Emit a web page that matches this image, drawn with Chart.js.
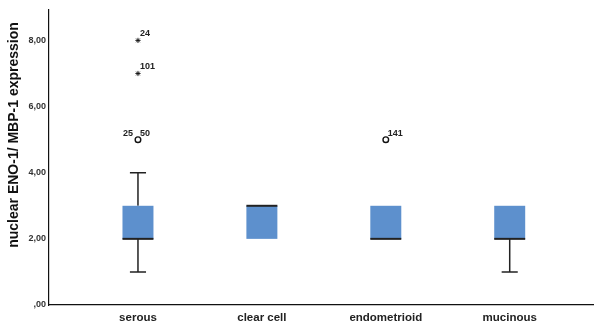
<!DOCTYPE html>
<html>
<head>
<meta charset="utf-8">
<script src="https://cdn.jsdelivr.net/npm/chart.js@4.4.1/dist/chart.umd.min.js"></script>
<style>
  html, body { margin: 0; padding: 0; background: #fff; overflow: hidden; }
  #wrap { width: 599px; height: 323px; position: relative; }
</style>
</head>
<body>
<div id="wrap"><canvas id="chart"></canvas></div>
<script>
// categories and five-number summaries
const categorias = ['serous', 'clear cell', 'endometrioid', 'mucinous'];
const minimos   = [1, 2, 2, 1];
const q1s       = [2, 2, 2, 2];
const medianas  = [2, 3, 2, 2];
const q3s       = [3, 3, 3, 3];
const maximos   = [4, 3, 3, 3];

// outliers: category index, value, marker, case labels
const outlierCat    = [0, 0, 0, 2];
const outlierValor  = [8, 7, 5, 5];
const outlierTipo   = ['star', 'star', 'circle', 'circle'];
const outlierLabelE = ['', '', '25', ''];
const outlierLabelD = ['24', '101', '50', '141'];

const yTicks = [0, 2, 4, 6, 8];
const yTitulo = 'nuclear ENO-1/ MBP-1 expression';

const corCaixa = '#5d90cd';
const corLinha = '#222222';
const meiaCaixa = 0.125;   // half box width in category units
const meioCap = 0.065;     // half whisker cap width
const fonte = '"Liberation Sans", Arial, sans-serif';

const fmt = v => v === 0 ? ',00' : v.toFixed(2).replace('.', ',');

const boxPlugin = {
  id: 'boxes',
  beforeDatasetsDraw(chart) {
    const { ctx, scales: { x, y } } = chart;
    ctx.save();
    categorias.forEach((c, i) => {
      const cx = x.getPixelForValue(i + 1);
      const xl = x.getPixelForValue(i + 1 - meiaCaixa);
      const xr = x.getPixelForValue(i + 1 + meiaCaixa);
      const cl = x.getPixelForValue(i + 1 - meioCap);
      const cr = x.getPixelForValue(i + 1 + meioCap);
      const yMin = y.getPixelForValue(minimos[i]);
      const yQ1 = y.getPixelForValue(q1s[i]);
      const yMed = y.getPixelForValue(medianas[i]);
      const yQ3 = y.getPixelForValue(q3s[i]);
      const yMax = y.getPixelForValue(maximos[i]);

      ctx.strokeStyle = corLinha;
      ctx.lineWidth = 1.5;
      if (maximos[i] > q3s[i]) {
        ctx.beginPath();
        ctx.moveTo(cx, yQ3); ctx.lineTo(cx, yMax);
        ctx.moveTo(cl, yMax); ctx.lineTo(cr, yMax);
        ctx.stroke();
      }
      if (minimos[i] < q1s[i]) {
        ctx.beginPath();
        ctx.moveTo(cx, yQ1); ctx.lineTo(cx, yMin);
        ctx.moveTo(cl, yMin); ctx.lineTo(cr, yMin);
        ctx.stroke();
      }
      ctx.fillStyle = corCaixa;
      ctx.fillRect(xl, yQ3, xr - xl, yQ1 - yQ3);

      ctx.strokeStyle = corLinha;
      ctx.lineWidth = 2;
      ctx.beginPath();
      ctx.moveTo(xl, yMed); ctx.lineTo(xr, yMed);
      ctx.stroke();
    });

    // y axis title
    ctx.fillStyle = '#111';
    ctx.font = 'bold 14px ' + fonte;
    ctx.textAlign = 'center';
    ctx.textBaseline = 'middle';
    ctx.translate(14, 135);
    ctx.rotate(-Math.PI / 2);
    ctx.fillText(yTitulo, 0, 0);
    ctx.restore();
  },
  afterDatasetsDraw(chart) {
    const { ctx, scales: { x, y } } = chart;
    ctx.save();
    ctx.fillStyle = '#222';
    ctx.font = 'bold 9px ' + fonte;
    ctx.textBaseline = 'alphabetic';
    outlierValor.forEach((v, k) => {
      const px = x.getPixelForValue(outlierCat[k] + 1);
      const py = y.getPixelForValue(v);
      if (outlierLabelD[k]) {
        ctx.textAlign = 'left';
        ctx.fillText(outlierLabelD[k], px + 2, py - 4);
      }
      if (outlierLabelE[k]) {
        ctx.textAlign = 'right';
        ctx.fillText(outlierLabelE[k], px - 5, py - 4);
      }
    });
    ctx.restore();
  }
};

const semPadding = s => { s.paddingLeft = 0; s.paddingRight = 0; s.paddingTop = 0; s.paddingBottom = 0; };

new Chart(document.getElementById('chart'), {
  type: 'scatter',
  data: {
    datasets: [{
      data: outlierValor.map((v, k) => ({ x: outlierCat[k] + 1, y: v })),
      pointStyle: outlierTipo,
      radius: outlierTipo.map(t => t === 'star' ? 2.6 : 2.8),
      backgroundColor: '#fff',
      borderColor: '#111',
      borderWidth: outlierTipo.map(t => t === 'star' ? 0.9 : 1.4)
    }]
  },
  options: {
    responsive: true,
    maintainAspectRatio: false,
    animation: false,
    events: [],
    layout: { padding: { top: 10, right: 0, left: 0, bottom: 0 } },
    plugins: { legend: { display: false }, tooltip: { enabled: false } },
    scales: {
      x: {
        type: 'linear',
        min: 0.282,
        max: 4.677,
        afterBuildTicks: s => { s.ticks = categorias.map((c, i) => ({ value: i + 1 })); },
        afterFit: s => { s.height = 18; semPadding(s); },
        grid: { display: false, drawTicks: false },
        border: { display: true, color: '#111', width: 1.2 },
        ticks: {
          padding: 6,
          color: '#222',
          font: { family: fonte, size: 11.5, weight: 'bold' },
          callback: v => categorias[v - 1] || ''
        }
      },
      y: {
        min: 0,
        max: 8.92,
        afterBuildTicks: s => { s.ticks = yTicks.map(v => ({ value: v })); },
        afterFit: s => { s.width = 49; semPadding(s); },
        grid: { display: false, drawTicks: false },
        border: { display: true, color: '#111', width: 1.2 },
        ticks: {
          padding: 3,
          color: '#333',
          font: { family: fonte, size: 9, weight: 'bold' },
          callback: v => fmt(v)
        }
      }
    }
  },
  plugins: [boxPlugin]
});
</script>
</body>
</html>
